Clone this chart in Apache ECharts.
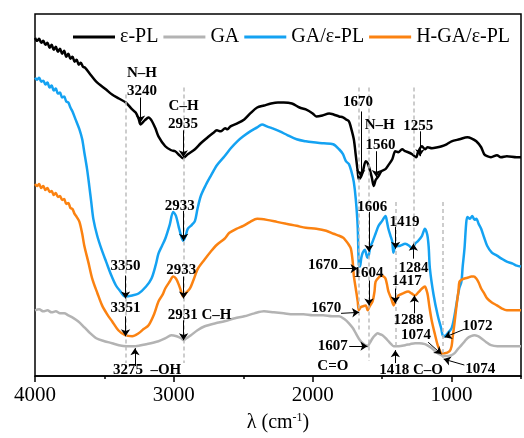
<!DOCTYPE html>
<html>
<head>
<meta charset="utf-8">
<script src="https://cdn.jsdelivr.net/npm/echarts@6/dist/echarts.min.js"></script>
<style>
  html, body { margin: 0; padding: 0; background: #fff; }
  #main { width: 524px; height: 438px; }
</style>
</head>
<body>
<div id="main"></div>
<script>
// FTIR spectra, [wavenumber, relative transmittance]
const epl = [
  [4000,340],[3985,337],[3970,339],[3955,335],[3940,337],[3925,333],[3910,335],[3895,330],[3880,333],
  [3865,328],[3850,331],[3835,326],[3820,329],[3805,324],[3790,327],[3775,321],[3760,324],[3745,319],
  [3730,321],[3715,316],[3700,318],[3685,313],[3670,315],[3655,311],[3640,310],[3600,303],[3559,296],
  [3488,288],[3445,283],[3396,279],[3346,275],[3300,268],[3275,265],[3254,259],[3240,253],[3210,257],
  [3182,260],[3161,257],[3133,249],[3111,241],[3062,231],[3019,227],[2991,226],[2960,222],[2935,219],
  [2900,223],[2848,228],[2806,234],[2756,240],[2720,244],[2690,247],[2664,246],[2630,249],[2614,248],
  [2592,251],[2543,254],[2493,258],[2450,264],[2400,270],[2350,272],[2300,274],[2250,275],[2209,275],
  [2150,274],[2095,270],[2050,268],[2000,264],[1974,261],[1930,262],[1882,264],[1850,263],[1810,261],
  [1782,260],[1760,258],[1739,256],[1725,250],[1704,238],[1690,222],[1676,206],[1668,198],[1654,200],
  [1640,205],[1618,216],[1604,214],[1590,208],[1575,200],[1560,191],[1547,197],[1526,201],[1505,206],
  [1476,208],[1455,212],[1427,218],[1405,226],[1384,225],[1356,228],[1334,226],[1313,225],[1284,223],
  [1255,220],[1242,225],[1213,231],[1192,228],[1171,230],[1142,229],[1100,230],[1071,231],[1036,233],
  [1000,236],[943,238],[886,240],[858,239],[822,236],[787,230],[765,223],[744,221],[716,220],[673,222],
  [645,220],[602,221],[531,220],[500,220]
];
const ga = [
  [4000,66],[3970,67],[3940,65],[3910,66],[3880,64],[3850,65],[3820,63],[3790,63],[3760,61],[3720,58],
  [3690,55],[3659,51],[3610,44],[3559,38],[3500,35],[3445,33],[3396,31],[3340,30],[3275,30],[3200,32],
  [3111,35],[3060,38],[3019,41],[2980,40],[2948,38],[2931,36],[2910,38],[2877,41],[2830,46],[2777,50],
  [2700,53],[2635,55],[2560,58],[2493,60],[2420,63],[2351,65],[2280,64],[2209,63],[2140,62],[2066,62],
  [2000,61],[1924,61],[1860,60],[1810,60],[1770,57],[1739,53],[1710,48],[1690,43],[1665,37],[1640,33],
  [1620,31],[1607,30],[1590,33],[1569,38],[1550,41],[1533,43],[1515,42],[1498,41],[1475,38],[1455,35],
  [1435,32],[1418,30],[1380,30],[1334,31],[1300,32],[1263,33],[1230,33],[1192,32],[1165,30],[1142,28],
  [1120,25],[1100,23],[1074,21],[1060,20],[1036,20],[1000,21],[978,23],[955,27],[929,31],[905,35],
  [886,38],[860,40],[836,41],[810,40],[787,38],[750,34],[716,31],[670,30],[623,30],[570,30],[531,30],[500,30]
];
const gaEpl = [
  [4000,300],[3985,298],[3970,300],[3955,296],[3940,297],[3925,293],[3910,295],[3895,290],[3880,292],
  [3865,287],[3850,289],[3835,284],[3820,285],[3805,280],[3790,281],[3775,276],[3760,275],[3745,270],
  [3730,266],[3705,257],[3680,248],[3660,238],[3645,225],[3625,208],[3609,191],[3595,175],[3580,158],
  [3552,141],[3520,127],[3488,115],[3450,101],[3417,91],[3390,86],[3350,80],[3300,81],[3254,83],
  [3200,90],[3161,98],[3130,112],[3111,123],[3085,131],[3062,138],[3030,152],[3005,165],[2985,161],
  [2965,150],[2950,142],[2933,136],[2915,141],[2900,148],[2870,152],[2848,156],[2830,168],[2806,181],
  [2770,192],[2735,201],[2690,212],[2635,221],[2590,229],[2543,236],[2500,241],[2450,246],[2400,250],
  [2365,253],[2330,251],[2290,249],[2237,246],[2180,242],[2116,238],[2050,236],[1995,235],[1920,234],
  [1853,233],[1810,228],[1782,223],[1761,216],[1739,213],[1720,205],[1704,195],[1690,178],[1676,150],
  [1668,112],[1660,110],[1650,119],[1640,124],[1625,127],[1606,119],[1597,121],[1585,130],[1569,135],
  [1545,144],[1526,151],[1500,156],[1476,161],[1465,155],[1455,148],[1440,141],[1427,135],[1419,124],
  [1405,130],[1370,131],[1334,133],[1305,131],[1284,128],[1263,133],[1240,136],[1213,141],[1192,148],
  [1175,142],[1165,130],[1156,108],[1130,82],[1100,61],[1075,48],[1060,40],[1040,41],[1028,43],
  [1000,48],[985,56],[970,68],[945,88],[929,95],[920,110],[907,128],[895,153],[886,160],[868,158],
  [851,161],[835,157],[822,158],[805,153],[787,148],[765,139],[744,131],[710,124],[673,121],[640,118],
  [602,115],[560,113],[531,111],[500,110]
];
const hgaEpl = [
  [4000,193],[3985,191],[3970,193],[3955,189],[3940,191],[3925,187],[3910,189],[3895,185],[3880,186],
  [3865,182],[3850,184],[3835,180],[3820,181],[3805,177],[3790,178],[3775,173],[3760,174],[3745,169],
  [3730,168],[3715,163],[3700,160],[3680,155],[3660,143],[3645,131],[3615,114],[3588,98],[3550,83],
  [3517,71],[3480,62],[3445,55],[3400,46],[3351,41],[3300,40],[3254,43],[3220,47],[3182,51],[3140,63],
  [3111,75],[3080,82],[3062,88],[3030,95],[3005,100],[2985,98],[2965,92],[2950,86],[2933,80],[2910,84],
  [2884,88],[2860,96],[2827,108],[2780,117],[2735,125],[2690,132],[2635,138],[2600,144],[2550,148],
  [2500,151],[2450,155],[2400,158],[2330,157],[2258,155],[2190,153],[2116,151],[2050,149],[1974,148],
  [1903,146],[1850,143],[1810,141],[1780,139],[1761,136],[1740,132],[1725,128],[1712,115],[1704,101],
  [1690,88],[1676,75],[1668,66],[1655,69],[1640,70],[1618,71],[1604,66],[1590,70],[1569,75],[1555,85],
  [1547,95],[1525,99],[1505,101],[1490,100],[1476,98],[1465,92],[1455,85],[1435,78],[1417,71],
  [1400,78],[1384,81],[1350,83],[1313,85],[1288,83],[1263,81],[1240,84],[1213,88],[1192,90],[1180,86],
  [1171,81],[1160,70],[1142,55],[1120,42],[1100,31],[1085,26],[1074,23],[1050,23],[1014,25],[1000,30],
  [993,38],[980,52],[964,71],[950,86],[943,95],[925,97],[907,98],[880,99],[858,100],[840,100],
  [822,98],[805,94],[787,88],[765,83],[744,78],[710,74],[673,71],[640,68],[602,66],[560,66],[531,66],[500,66]
];

// band positions of the dashed guide lines [wavenumber, from, to]
const guides = [
  [3346,283,13],[2927,290,13],[1668,290,45],[1597,290,15],[1405,175,28],[1270,290,128],[1064,175,18]
];
// text annotations [wavenumber, value, text]
const notes = [
  [3230,305,'N–H'],[3230,286,'3240'],[2930,271,'C–H'],[2935,253,'2935'],[2957,171,'2933'],
  [3348,110,'3350'],[3348,68,'3351'],[2946,106,'2933'],[2815,61,'2931 C–H'],[3193,6,'3275  –OH'],
  [1673,275,'1670'],[1517,252,'N–H'],[1512,232,'1560'],[1240,251,'1255'],[1571,170,'1606'],
  [1339,155,'1419'],[1275,108,'1284'],[1926,111,'1670'],[1599,103,'1604'],[1322,95,'1417'],
  [1311,56,'1288'],[1903,68,'1670'],[1855,30,'1607'],[1855,10,'C=O'],[1291,6,'1418 C–O'],
  [813,50,'1072'],[1257,41,'1074'],[794,7,'1074']
];
// arrows [fromW, fromV, toW, toV]
const arrows = [
  [3240,280,3240,255],[2932,247,2932,220],[2930,166,2930,136],[3348,101,3348,78],[3348,60,3348,40],
  [2930,100,2930,78],[2930,56,2930,36],[3280,10,3280,28],[1654,266,1654,200],[1542,226,1542,200],
  [1228,246,1228,221],[1595,165,1595,125],[1403,150,1403,128],[1275,118,1275,133],[1808,108,1677,108],
  [1595,96,1595,71],[1405,88,1405,73],[1268,63,1268,81],[1796,63,1666,64],[1737,30,1606,30],
  [1405,13,1405,26],[908,47,1050,39],[1169,34,1073,22],[908,11,1057,17]
];

const serif = 'Liberation Serif';
let chart = echarts.init(document.getElementById('main'));

function spectrum(name, data, color) {
  return {
    name: name,
    type: 'line',
    data: data,
    symbol: 'none',
    smooth: 0.3,
    lineStyle: { color: color, width: 2.5 },
    itemStyle: { color: color },
    z: 3
  };
}

let option = {
  animation: false,
  grid: { left: 35, right: -3, top: 14, bottom: 60, show: true, borderColor: '#000', borderWidth: 1.5 },
  legend: {
    data: ['ε-PL', 'GA', 'GA/ε-PL', 'H-GA/ε-PL'],
    left: 68, top: 22,
    icon: 'rect',
    itemWidth: 42, itemHeight: 3, itemGap: 5,
    textStyle: { fontFamily: serif, fontSize: 20, color: '#000' }
  },
  xAxis: [{
    type: 'value', inverse: true, min: 500, max: 4000, interval: 500,
    name: 'λ (cm{sup|-1})', nameLocation: 'middle', nameGap: 36,
    nameTextStyle: {
      fontFamily: serif, fontSize: 20, color: '#000',
      rich: { sup: { fontFamily: serif, fontSize: 12, color: '#000', verticalAlign: 'top', padding: [0, 0, 10, 0] } }
    },
    axisLine: { lineStyle: { color: '#000', width: 1.5 } },
    axisTick: { length: 3, lineStyle: { color: '#000', width: 1.5 } },
    axisLabel: {
      fontFamily: serif, fontSize: 21, color: '#000', margin: 9,
      formatter: v => (v % 1000 === 0 ? String(v) : '')
    },
    splitLine: { show: false }
  }, {
    type: 'value', inverse: true, min: 500, max: 4000, interval: 500, position: 'bottom',
    axisLine: { show: false },
    axisTick: { length: 6, customValues: [1000, 2000, 3000, 4000], lineStyle: { color: '#000', width: 1.5 } },
    axisLabel: { show: false },
    splitLine: { show: false }
  }],
  yAxis: {
    type: 'value', min: 0, max: 364,
    axisLine: { show: false }, axisTick: { show: false }, axisLabel: { show: false }, splitLine: { show: false }
  },
  series: [
    spectrum('ε-PL', epl, '#000000'),
    spectrum('GA', ga, '#b3b3b3'),
    spectrum('GA/ε-PL', gaEpl, '#14a2f2'),
    spectrum('H-GA/ε-PL', hgaEpl, '#fb8211'),
    {
      name: 'guides', type: 'line', data: [], z: 2,
      markLine: {
        silent: true, symbol: ['none', 'none'], label: { show: false },
        lineStyle: { color: '#bdbdbd', width: 1.5, type: [4, 3] },
        data: guides.map(g => [{ coord: [g[0], g[1]] }, { coord: [g[0], g[2]] }])
      }
    },
    {
      name: 'notes', type: 'line', data: [], z: 5,
      markLine: {
        silent: true, symbol: ['none', 'arrow'], symbolSize: 7, label: { show: false },
        lineStyle: { color: '#000', width: 1, type: 'solid' },
        emphasis: { disabled: true },
        data: arrows.map(a => [{ coord: [a[0], a[1]] }, { coord: [a[2], a[3]] }])
      },
      markPoint: {
        silent: true, symbol: 'circle', symbolSize: 0,
        label: {
          show: true, position: 'inside', formatter: '{b}',
          fontFamily: serif, fontSize: 15, fontWeight: 'bold', color: '#000'
        },
        data: notes.map(n => ({ name: n[2], coord: [n[0], n[1]] }))
      }
    }
  ]
};
chart.setOption(option);
</script>
</body>
</html>
